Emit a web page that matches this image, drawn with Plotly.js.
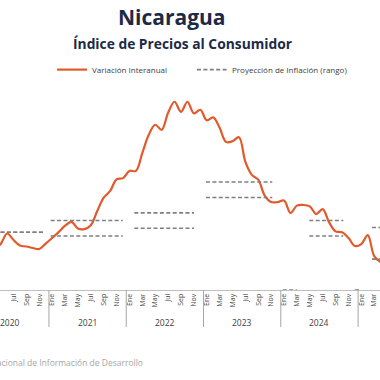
<!DOCTYPE html>
<html><head><meta charset="utf-8">
<script src="https://cdn.plot.ly/plotly-3.0.1.min.js"></script>
<style>html,body{margin:0;padding:0;background:#fff;overflow:hidden}#c{width:380px;height:380px}</style>
</head><body><div id="c"></div>
<script>
// ---- data ----
const months = ["2020-04","2020-05","2020-06","2020-07","2020-08","2020-09","2020-10","2020-11","2020-12",
"2021-01","2021-02","2021-03","2021-04","2021-05","2021-06","2021-07","2021-08","2021-09","2021-10","2021-11","2021-12",
"2022-01","2022-02","2022-03","2022-04","2022-05","2022-06","2022-07","2022-08","2022-09","2022-10","2022-11","2022-12",
"2023-01","2023-02","2023-03","2023-04","2023-05","2023-06","2023-07","2023-08","2023-09","2023-10","2023-11","2023-12",
"2024-01","2024-02","2024-03","2024-04","2024-05","2024-06","2024-07","2024-08","2024-09","2024-10","2024-11","2024-12",
"2025-01","2025-02","2025-03","2025-04"];
const inflation = [2.65,2.98,3.66,3.24,2.88,2.82,2.72,2.66,3.01,
3.38,3.75,4.17,4.42,3.98,3.95,4.20,5.12,5.98,6.42,7.17,7.25,
7.72,7.72,8.89,10.06,10.71,10.38,11.49,12.20,11.55,12.20,11.45,11.68,
11.00,11.19,10.51,9.60,9.64,9.90,8.30,7.46,7.15,6.12,5.70,5.70,
5.80,4.99,5.47,5.51,5.42,4.92,5.24,4.38,3.80,3.74,3.38,2.85,
2.98,3.56,2.20,1.81];
// projection ranges: [start month index, end month index, lower, upper]
const projYears  = ["2020","2021","2022","2023","2024","2025"];
const projStart  = [0, 11.77, 24.75, 35.88, 51.92, 61.66];
const projEnd    = [10.88, 22.95, 34.02, 46.18, 57.2, 66];
const projLow    = [3.74, 3.5, 4.0, 6.0, 3.5, 2.0];
const projHigh   = [3.74, 4.5, 5.0, 7.0, 4.5, 4.05];
const zeroStart  = [47.8, 59.0];
const zeroEnd    = [50.0, 59.8];
const zeroVal    = [0, 0];
const years = [2020,2021,2022,2023,2024,2025];
const tickMonths = ["Ene","Mar","May","Jul","Sep","Nov"];
const tickMonthNums = [1,3,5,7,9,11];

function idx(s){const [y,m]=s.split("-").map(Number);return (y-2020)*12+(m-1);}

const F = "'Open Sans', sans-serif";
const traces = [];
traces.push({x: months.map(idx), y: inflation, type:"scatter", mode:"lines", name:"Variación Interanual",
  legend:"legend", line:{color:"#e2592b", width:2.2, shape:"spline", smoothing:1}});
for(let k=0;k<projYears.length;k++){
  traces.push({x:[projStart[k],projEnd[k]], y:[projHigh[k],projHigh[k]], type:"scatter", mode:"lines",
    name:"Proyección de Inflación (rango)", showlegend:k===0, legend:"legend2", legendgroup:"p",
    line:{color:"#808080", width:1.6, dash:"4px,2.4px"}});
  traces.push({x:[projStart[k],projEnd[k]], y:[projLow[k],projLow[k]], type:"scatter", mode:"lines",
    showlegend:false, legend:"legend2", legendgroup:"p", line:{color:"#808080", width:1.6, dash:"4px,2.4px"}});
}
for(let k=0;k<zeroStart.length;k++){
  traces.push({x:[zeroStart[k],zeroEnd[k]], y:[zeroVal[k],zeroVal[k]], type:"scatter", mode:"lines",
    showlegend:false, cliponaxis:false, line:{color:"#808080", width:1.6, dash:"4px,2.4px"}});
}

const tickvals=[], ticktext=[];
years.forEach(y=>tickMonthNums.forEach((m,j)=>{tickvals.push((y-2020)*12+m-1);ticktext.push(tickMonths[j]);}));

const shapes = [], annotations = [];
const H = 215.6, bottom = 290;
years.forEach(y=>{
  const b=(y-2020)*12-0.5;
  shapes.push({type:"line", xref:"x", yref:"paper", x0:b, x1:b, y0:0, y1:(bottom-327)/H, line:{color:"#a6a6a6", width:1}});
  annotations.push({xref:"x", yref:"paper", x:(y-2020)*12+5.5, y:(bottom-322.5)/H, text:String(y), showarrow:false,
    yanchor:"middle", font:{family:F, size:8.5, color:"#404040"}});
});
annotations.push({xref:"paper", yref:"paper", x:145/380, y:(bottom-362)/H, xanchor:"right", yanchor:"middle", showarrow:false,
  text:"Fuente: Sistema Nacional de Información de Desarrollo", font:{family:F, size:8.5, color:"#a6a6a6"}});
annotations.push({xref:"paper", yref:"paper", x:172/380, y:(bottom-18)/H, xanchor:"center", yanchor:"middle", showarrow:false,
  text:"<b>Nicaragua</b>", font:{family:F, size:21, color:"#1c2a48"}});
annotations.push({xref:"paper", yref:"paper", x:182.5/380, y:(bottom-44)/H, xanchor:"center", yanchor:"middle", showarrow:false,
  text:"<b>Índice de Precios al Consumidor</b>", font:{family:F, size:13.8, color:"#1c2a48"}});

const legFont = {family:F, size:8, color:"#404040"};
const layout = {
  width:380, height:380, margin:{l:0, r:0, t:74.4, b:90},
  paper_bgcolor:"#fff", plot_bgcolor:"#fff",
  showlegend:true,
  legend:{orientation:"h", x:52/380, y:(bottom-70)/H, xanchor:"left", yanchor:"middle", font:legFont,
    itemwidth:30, bgcolor:"rgba(0,0,0,0)"},
  legend2:{orientation:"h", x:192/380, y:(bottom-70)/H, xanchor:"left", yanchor:"middle", font:legFont,
    itemwidth:30, bgcolor:"rgba(0,0,0,0)"},
  xaxis:{range:[3.9,62.9], tickmode:"array", tickvals:tickvals, ticktext:ticktext, tickangle:-90,
    tickfont:{family:F, size:7, color:"#404040"}, ticks:"", showgrid:false, zeroline:false,
    showline:true, linecolor:"#bfbfbf", linewidth:1, fixedrange:true},
  yaxis:{range:[0,14], visible:false, showgrid:false, zeroline:false, fixedrange:true},
  shapes:shapes, annotations:annotations
};
Plotly.newPlot("c", traces, layout, {displayModeBar:false, staticPlot:true});
</script></body></html>
